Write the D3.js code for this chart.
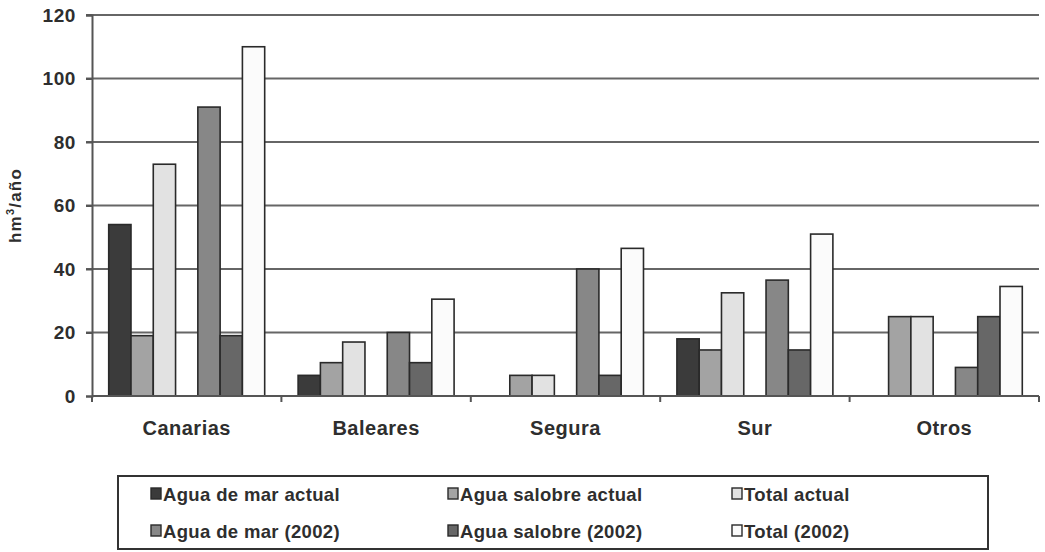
<!DOCTYPE html>
<html>
<head>
<meta charset="utf-8">
<script src="https://cdn.jsdelivr.net/npm/d3@7"></script>
<style>
  html, body { margin: 0; padding: 0; background: #fff; }
  svg { display: block; font-family: "Liberation Sans", Arial, sans-serif; }
</style>
</head>
<body>
<svg id="chart" width="1045" height="552"></svg>
<script>
// Desalination capacity by region (hm³/año)
const categories = ["Canarias", "Baleares", "Segura", "Sur", "Otros"];

const seriesNames = [
  "Agua de mar actual",
  "Agua salobre actual",
  "Total actual",
  "Agua de mar (2002)",
  "Agua salobre (2002)",
  "Total (2002)"
];

const aguaMarActual     = [54, 6.5, 0, 18, 0];
const aguaSalobreActual = [19, 10.5, 6.5, 14.5, 25];
const totalActual       = [73, 17, 6.5, 32.5, 25];
const aguaMar2002       = [91, 20, 40, 36.5, 9];
const aguaSalobre2002   = [19, 10.5, 6.5, 14.5, 25];
const total2002         = [110, 30.5, 46.5, 51, 34.5];

const yTicks = [0, 20, 40, 60, 80, 100, 120];

const seriesValues = [aguaMarActual, aguaSalobreActual, totalActual,
                      aguaMar2002, aguaSalobre2002, total2002];

const fills = ["#3b3b3b", "#a3a3a3", "#e2e2e2", "#878787", "#676767", "#fbfbfb"];

// Slot layout inside each cluster: three "actual" bars, an empty slot, three "2002" bars
const slots = ["s0", "s1", "s2", "gap", "s3", "s4", "s5"];
const slotOf = ["s0", "s1", "s2", "s3", "s4", "s5"];

const svg = d3.select("#chart");
const plotLeft = 92, plotRight = 1039, plotTop = 15, plotBottom = 396;

// Cluster gap equals 1.5 bar widths
const gapRatio = 1.5 / 8.5;
const x0 = d3.scaleBand()
  .domain(categories)
  .range([plotLeft, plotRight])
  .paddingInner(gapRatio)
  .paddingOuter(gapRatio / 2);

const x1 = d3.scaleBand()
  .domain(slots)
  .range([0, x0.bandwidth()])
  .padding(0);

const y = d3.scaleLinear().domain([0, 120]).range([plotBottom, plotTop]);

// Horizontal gridlines
svg.append("g")
  .selectAll("line")
  .data(yTicks.filter(t => t > 0))
  .join("line")
  .attr("x1", plotLeft - 6).attr("x2", plotRight)
  .attr("y1", d => y(d)).attr("y2", d => y(d))
  .attr("stroke", "#666")
  .attr("stroke-width", 2);

// Y axis
const yAxis = svg.append("g")
  .attr("transform", `translate(${plotLeft},0)`)
  .call(d3.axisLeft(y).tickValues(yTicks).tickSize(6).tickPadding(10));
yAxis.select(".domain").attr("stroke", "#555").attr("stroke-width", 2);
yAxis.selectAll(".tick line").attr("stroke", "#555").attr("stroke-width", 2);
yAxis.selectAll(".tick text")
  .attr("fill", "#2e2e2e")
  .style("font-family", "'Liberation Sans', Arial, sans-serif")
  .style("font-size", "19px")
  .style("font-weight", "bold")
  .style("letter-spacing", "0.6px");

// Bars
const clusters = svg.append("g")
  .selectAll("g")
  .data(categories)
  .join("g")
  .attr("transform", d => `translate(${x0(d)},0)`);

clusters.selectAll("rect")
  .data((c, ci) => seriesValues.map((vals, si) => ({ si, v: vals[ci] })).filter(d => d.v > 0))
  .join("rect")
  .attr("x", d => x1(slotOf[d.si]))
  .attr("width", x1.bandwidth())
  .attr("y", d => y(d.v))
  .attr("height", d => y(0) - y(d.v))
  .attr("fill", d => fills[d.si])
  .attr("stroke", "#2a2a2a")
  .attr("stroke-width", 1.6);

// X axis with ticks at category boundaries
const xBounds = categories.map(c => x0(c) - x0.step() * x0.paddingInner() / 2).concat([plotRight]);
svg.append("line")
  .attr("x1", plotLeft).attr("x2", plotRight)
  .attr("y1", plotBottom).attr("y2", plotBottom)
  .attr("stroke", "#555").attr("stroke-width", 2);
svg.append("g")
  .selectAll("line")
  .data(xBounds)
  .join("line")
  .attr("x1", d => d).attr("x2", d => d)
  .attr("y1", plotBottom).attr("y2", plotBottom + 6)
  .attr("stroke", "#555").attr("stroke-width", 2);

svg.append("g")
  .selectAll("text")
  .data(categories)
  .join("text")
  .attr("x", d => x0(d) + x0.bandwidth() / 2)
  .attr("y", 435)
  .attr("text-anchor", "middle")
  .attr("fill", "#2e2e2e")
  .style("font-size", "20px")
  .style("font-weight", "bold")
  .style("letter-spacing", "0.5px")
  .text(d => d);

// Y axis title
const yt = svg.append("text")
  .attr("transform", `translate(21,${(plotTop + plotBottom) / 2}) rotate(-90)`)
  .attr("text-anchor", "middle")
  .attr("fill", "#2e2e2e")
  .style("font-size", "17px")
  .style("font-weight", "bold")
  .style("letter-spacing", "1.2px");
yt.append("tspan").text("hm");
yt.append("tspan").attr("dy", -7).style("font-size", "11px").text("3");
yt.append("tspan").attr("dy", 7).text("/año");

// Legend
const legend = svg.append("g");
legend.append("rect")
  .attr("x", 118).attr("y", 476)
  .attr("width", 870).attr("height", 73)
  .attr("fill", "#fff")
  .attr("stroke", "#333")
  .attr("stroke-width", 2);

const colX = [151, 448, 732];
const rowY = [494, 531];
const items = legend.selectAll("g.item")
  .data(seriesNames)
  .join("g")
  .attr("class", "item")
  .attr("transform", (d, i) => `translate(${colX[i % 3]},${rowY[Math.floor(i / 3)]})`);

items.append("rect")
  .attr("x", 0).attr("y", -6)
  .attr("width", 10).attr("height", 11)
  .attr("fill", (d, i) => fills[i])
  .attr("stroke", "#2a2a2a")
  .attr("stroke-width", 1.4);

items.append("text")
  .attr("x", 12).attr("y", 6.5)
  .attr("fill", "#2e2e2e")
  .style("font-size", "18.5px")
  .style("font-weight", "bold")
  .style("letter-spacing", "0.35px")
  .text(d => d);
</script>
</body>
</html>
